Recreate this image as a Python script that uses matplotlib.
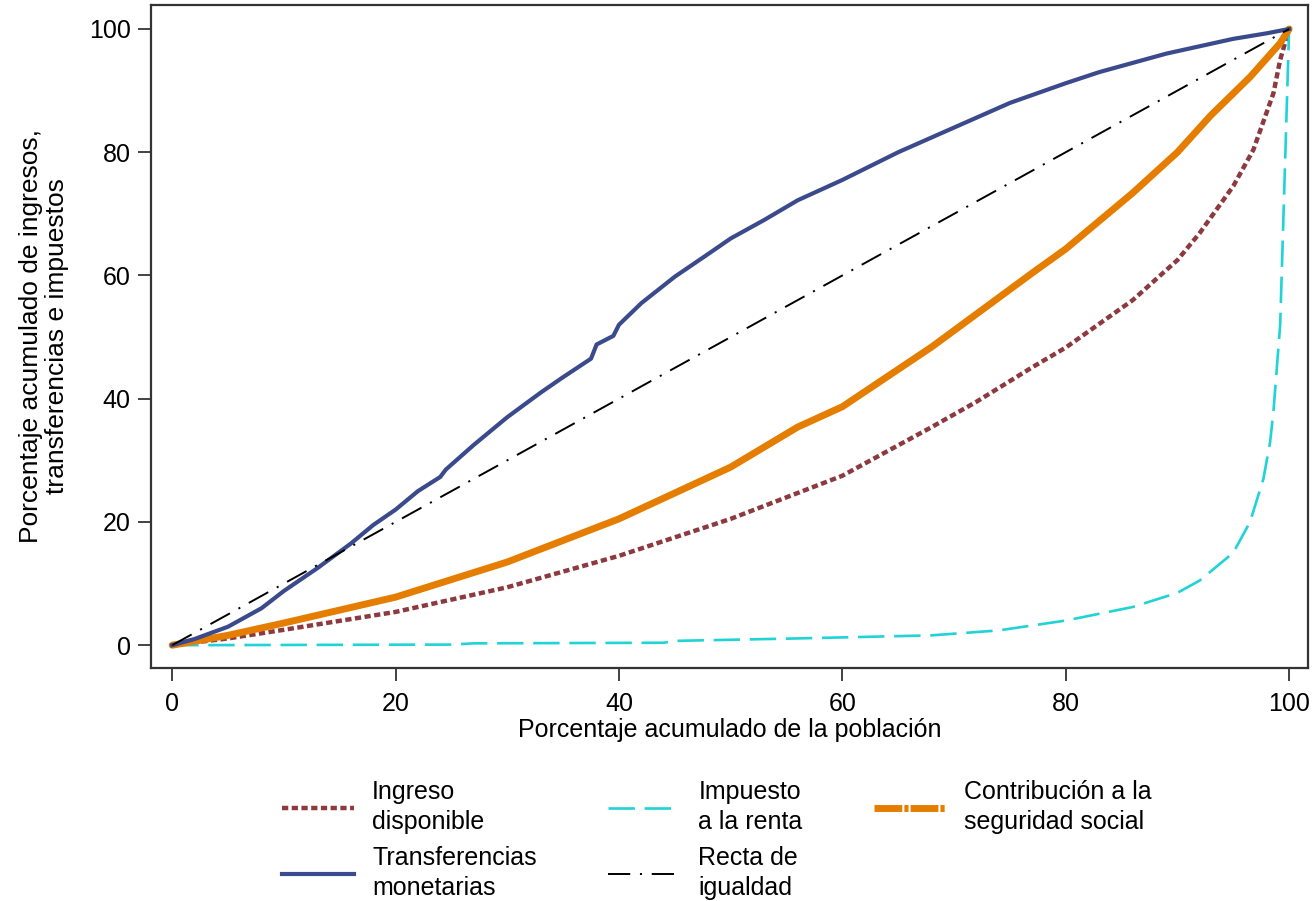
import numpy as np
import matplotlib
matplotlib.use("Agg")
import matplotlib.pyplot as plt
from matplotlib.lines import Line2D

plt.rcParams['font.family'] = ['Liberation Sans', 'DejaVu Sans']
plt.rcParams['lines.scale_dashes'] = False

# DATA
# Ingreso disponible
x_ingreso = [0, 5, 10, 20, 30, 40, 50, 56, 60, 68, 72, 77, 80, 86, 90, 92, 95, 96.8, 98.6, 99.2, 100]
y_ingreso = [0, 1.1, 2.5, 5.4, 9.4, 14.5, 20.5, 24.7, 27.5, 35.4, 39.5, 45.1, 48.3, 56, 62.5, 66.9, 74.5, 80.4, 89.6, 95, 100]

# Impuesto a la renta
x_impuesto = [0, 25, 27, 44, 45, 56, 68, 74, 80, 86, 90, 92, 95, 96.5, 97.7, 98.3, 98.6, 99.2, 99.5, 99.8, 100]
y_impuesto = [0, 0.1, 0.3, 0.4, 0.7, 1.1, 1.6, 2.4, 4, 6.2, 8.5, 10.5, 15, 20, 27, 33, 38, 52, 70, 88, 100]

# Contribucion a la seguridad social
x_contrib = [0, 5, 10, 20, 30, 40, 50, 56, 60, 68, 77, 80, 86, 90, 93, 96.5, 99.2, 100]
y_contrib = [0, 1.6, 3.6, 7.8, 13.5, 20.5, 28.9, 35.4, 38.7, 48.4, 60.4, 64.3, 73.4, 80, 86, 92.2, 97.7, 100]

# Transferencias monetarias
x_transf = [0, 2, 5, 8, 10, 13, 16, 18, 20, 22, 24, 24.5, 27, 30, 33, 35, 37.5, 38, 39.5, 40,
            42, 45, 48, 50, 53, 56, 60, 65, 70, 75, 80, 83, 86, 89, 92, 95, 98, 100]
y_transf = [0, 1, 3, 6, 8.8, 12.5, 16.5, 19.5, 22, 25, 27.3, 28.5, 32.5, 37, 41, 43.5, 46.5, 48.8, 50.2, 52,
            55.5, 59.8, 63.5, 66, 69, 72.2, 75.5, 80, 84, 88, 91.2, 93, 94.5, 96, 97.2, 98.4, 99.3, 100]

# Recta de igualdad
x_igualdad = [0, 100]
y_igualdad = [0, 100]

labels = ["Ingreso\ndisponible", "Impuesto\na la renta", "Contribución a la\nseguridad social",
          "Transferencias\nmonetarias", "Recta de\nigualdad"]

c_maroon = '#8c3a3f'
c_cyan = '#1fd3d6'
c_orange = '#e57e00'
c_navy = '#3a4a8c'
FS = 18

fig = plt.figure(figsize=(13.16, 9.01), dpi=100)
ax = fig.add_axes([0.1147, 0.2586, 0.8793, 0.7359])

l_ing, = ax.plot(x_ingreso, y_ingreso, color=c_maroon, lw=3.2, dashes=(4.5, 2.5), zorder=2)
l_imp, = ax.plot(x_impuesto, y_impuesto, color=c_cyan, lw=1.9, dashes=(19, 7), zorder=2)
l_con, = ax.plot(x_contrib, y_contrib, color=c_orange, lw=5, solid_capstyle='round', zorder=3)
l_tra, = ax.plot(x_transf, y_transf, color=c_navy, lw=3, zorder=4)
l_igu, = ax.plot(x_igualdad, y_igualdad, color='black', lw=1.4, dashes=(16, 7, 1.5, 7), zorder=5)

ax.set_xlim(-1.9, 101.7)
ax.set_ylim(-3.7, 103.9)
ax.set_xticks([0, 20, 40, 60, 80, 100])
ax.set_yticks([0, 20, 40, 60, 80, 100])
ax.tick_params(axis='both', direction='out', length=9.5, width=1.3, labelsize=FS,
               color='#333333', pad=5)
ax.tick_params(axis='x', pad=8)
for s in ax.spines.values():
    s.set_color('#333333')
    s.set_linewidth(1.6)

ax.set_xlabel("Porcentaje acumulado de la población", fontsize=FS, labelpad=1)
ax.set_ylabel("Porcentaje acumulado de ingresos,\ntransferencias e impuestos", fontsize=19,
              linespacing=1.1)
ax.yaxis.set_label_coords(-0.071, 0.5)

# legend handle for orange uses its long-dash / dot pattern
h_con = Line2D([], [], color=c_orange, lw=5, dashes=(20, 1.5, 3, 1.5))
handles = [l_ing, l_tra, l_imp, l_igu, h_con]
leg_labels = [labels[0], labels[3], labels[1], labels[4], labels[2]]
leg = fig.legend(handles, leg_labels, loc='upper left', bbox_to_anchor=(0.214, 0.134), ncol=3,
                 frameon=False, fontsize=FS, handlelength=2.9, handletextpad=0.72,
                 columnspacing=2.85, labelspacing=0.5, borderpad=0, borderaxespad=0)
for t in leg.get_texts():
    t.set_linespacing(1.3)

fig.savefig("out.png", dpi=100)
